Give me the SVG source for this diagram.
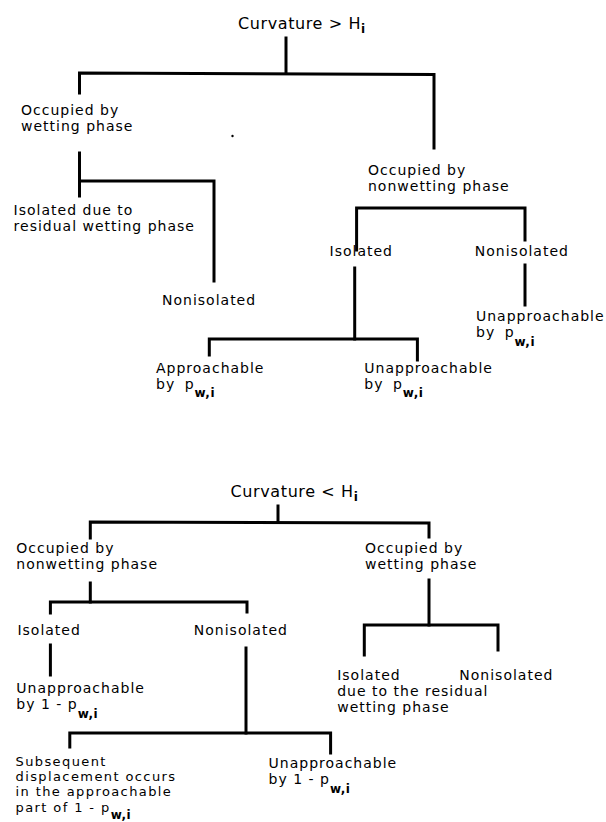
<svg xmlns="http://www.w3.org/2000/svg" width="606" height="822" viewBox="0 0 606 822">
<style>
  text { font-family: "DejaVu Sans", "Liberation Sans", sans-serif; font-size: 14px; letter-spacing: 1px; fill: #000; }
  .hd { font-size: 16px; letter-spacing: 0.6px; }
  .sub { font-size: 12px; font-weight: bold; letter-spacing: 0.5px; }
  .sm { font-size: 13px; letter-spacing: 1.4px; }
  .c path { fill: none; stroke: #000; stroke-width: 3; stroke-linecap: square; stroke-linejoin: miter; }
</style>
<rect width="606" height="822" fill="#fff"/>

<g id="connectors" class="c">
  <path d="M286 38 V73"/>
  <path d="M79.5 93 V73 L434 74.5 V148"/>
  <path d="M79.5 153 V196"/>
  <path d="M79.5 181 H214 V281"/>
  <path d="M356.6 250 V208 H525 V240"/>
  <path d="M525 265 V305"/>
  <path d="M354.7 268 V339"/>
  <path d="M209.3 355 V339 H417.4 V360"/>
  <path d="M278 506 V522"/>
  <path d="M90.3 538 V522 L429 523 V537"/>
  <path d="M90.3 583 V602"/>
  <path d="M50.4 613 V602 H247 V612"/>
  <path d="M50.4 645 V675"/>
  <path d="M246 648 V733"/>
  <path d="M69.8 747 V733 H330.6 V753"/>
  <path d="M429 580 V625"/>
  <path d="M364.3 655 V625 H498 V650"/>
</g>

<circle cx="232.5" cy="136" r="1.2" fill="#000"/>

<g id="top-root"><text class="hd" x="238" y="29">Curvature &gt; H<tspan class="sub" dy="4">i</tspan></text></g>
<g id="top-wetting"><text x="21" y="114.5">Occupied by<tspan x="21" dy="16.4">wetting phase</tspan></text></g>
<g id="top-wet-isolated"><text x="13.6" y="215">Isolated due to<tspan x="13.6" dy="16.4">residual wetting phase</tspan></text></g>
<g id="top-wet-nonisolated"><text x="162" y="305">Nonisolated</text></g>
<g id="top-nonwetting"><text x="368" y="174.5">Occupied by<tspan x="368" dy="16.4">nonwetting phase</tspan></text></g>
<g id="top-nw-isolated"><text x="329.5" y="256">Isolated</text></g>
<g id="top-nw-nonisolated"><text x="474.8" y="256">Nonisolated</text></g>
<g id="top-nw-non-unapp"><text x="476" y="321">Unapproachable<tspan x="476" dy="16.4">by </tspan><tspan dx="4">p</tspan><tspan class="sub" dy="9">w,i</tspan></text></g>
<g id="top-nw-iso-app"><text x="156" y="373">Approachable<tspan x="156" dy="16.4">by </tspan><tspan dx="4">p</tspan><tspan class="sub" dy="8">w,i</tspan></text></g>
<g id="top-nw-iso-unapp"><text x="364.3" y="373">Unapproachable<tspan x="364.3" dy="16.4">by </tspan><tspan dx="4">p</tspan><tspan class="sub" dy="8">w,i</tspan></text></g>

<g id="bot-root"><text class="hd" x="230.6" y="496.7">Curvature &lt; H<tspan class="sub" dy="4">i</tspan></text></g>
<g id="bot-nonwetting"><text x="16.3" y="553">Occupied by<tspan x="16.3" dy="16.4">nonwetting phase</tspan></text></g>
<g id="bot-wetting"><text x="365" y="553">Occupied by<tspan x="365" dy="16.4">wetting phase</tspan></text></g>
<g id="bot-nw-isolated"><text x="17.4" y="635">Isolated</text></g>
<g id="bot-nw-nonisolated"><text x="193.8" y="635">Nonisolated</text></g>
<g id="bot-nw-iso-unapp"><text x="16.3" y="692.5">Unapproachable<tspan x="16.3" dy="16.4">by 1 - p</tspan><tspan class="sub" dy="9">w,i</tspan></text></g>
<g id="bot-nw-non-subsequent"><text class="sm" x="15.5" y="766">Subsequent<tspan x="15.5" dy="15.2">displacement occurs</tspan><tspan x="15.5" dy="15.2">in the approachable</tspan><tspan x="15.5" dy="15.2">part of 1 - p</tspan><tspan class="sub" dy="7.5">w,i</tspan></text></g>
<g id="bot-nw-non-unapp"><text x="268.6" y="767.5">Unapproachable<tspan x="268.6" dy="16.4">by 1 - p</tspan><tspan class="sub" dy="9">w,i</tspan></text></g>
<g id="bot-wet-isolated"><text x="337.2" y="679.5">Isolated<tspan x="337.2" dy="16.4">due to the residual</tspan><tspan x="337.2" dy="16.4">wetting phase</tspan></text></g>
<g id="bot-wet-nonisolated"><text x="459.3" y="679.5">Nonisolated</text></g>
</svg>
